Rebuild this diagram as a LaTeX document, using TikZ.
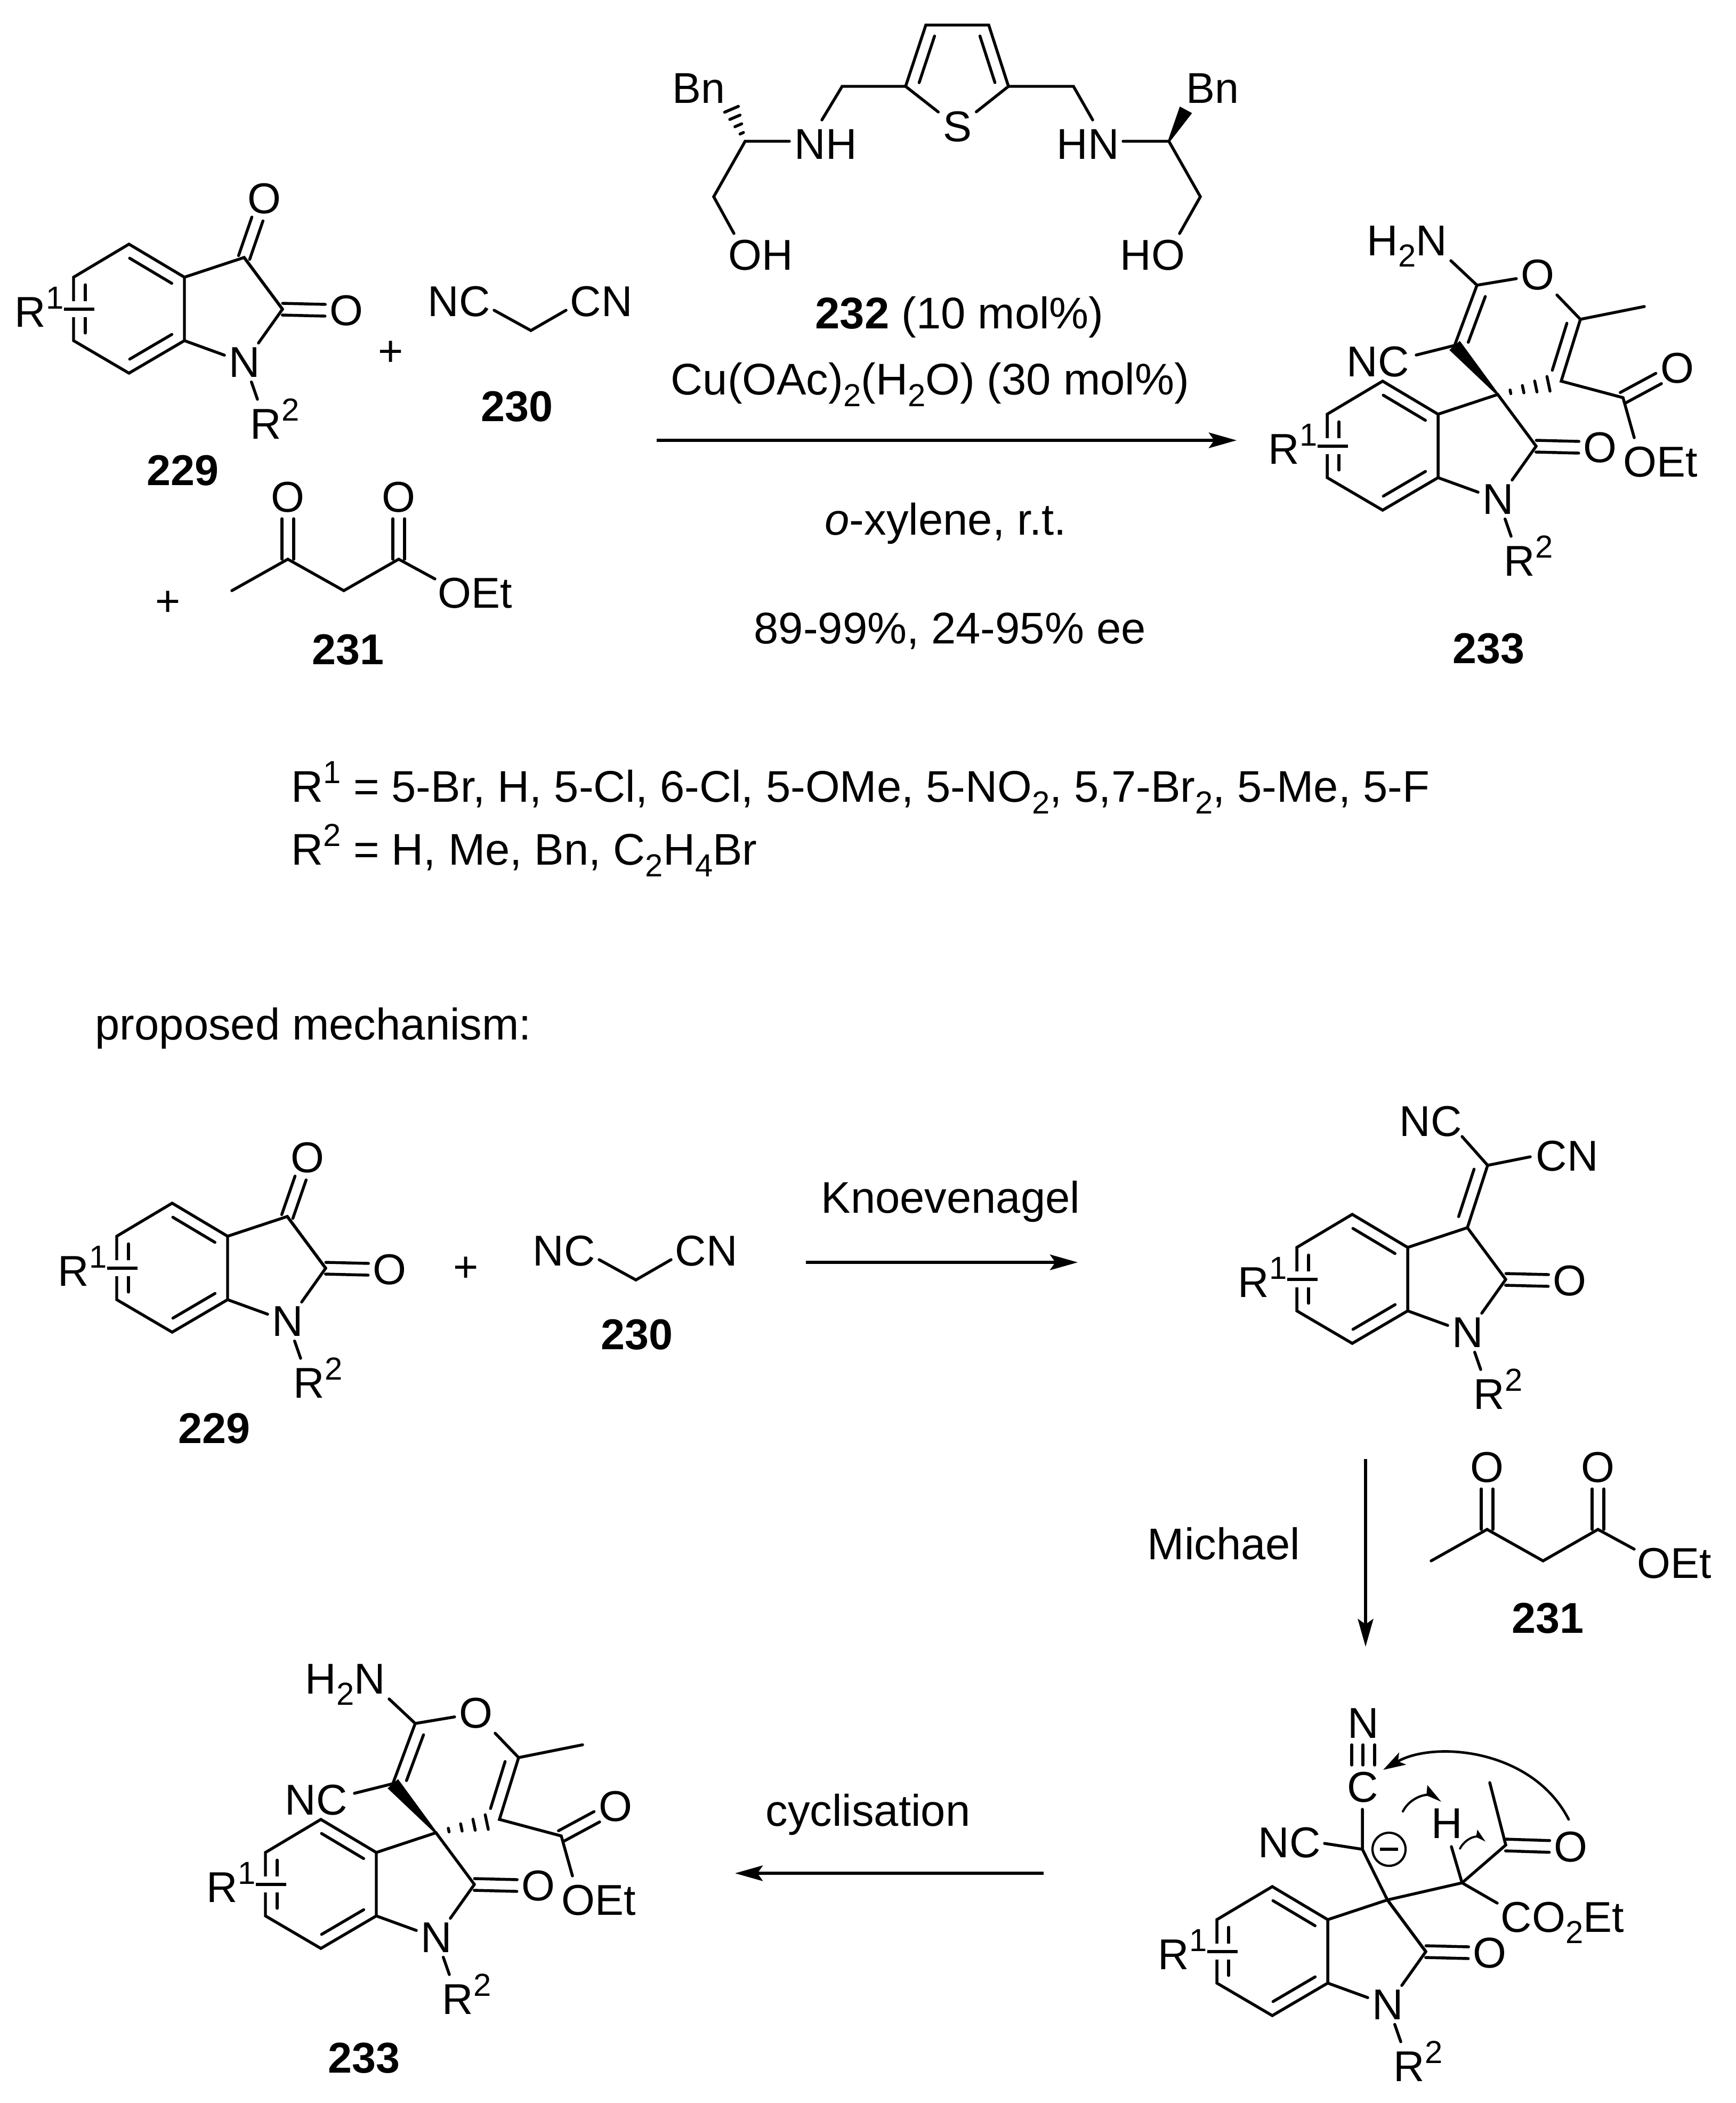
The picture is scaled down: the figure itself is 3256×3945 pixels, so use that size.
\documentclass[tikz,border=0pt]{standalone}
\usepackage{fontspec}
\setmainfont{Liberation Sans}
\usetikzlibrary{calc,arrows.meta}
\tikzset{
  every node/.style={font=\fontsize{23}{28}\selectfont},
  bond/.style={line width=1.55pt,line cap=round},
  atom/.style={inner sep=.08cm},
  lbl/.style={inner sep=0pt,anchor=base west,xshift=-.04cm},
  txt/.style={inner sep=0pt,anchor=base west,font=\fontsize{23.65}{28}\selectfont},
  ctr/.style={inner sep=0pt,anchor=base},
  rxn/.style={line width=1.5pt,-{Stealth[length=.52cm,width=.29cm,inset=.1cm]}},
  curly/.style={line width=1.35pt,line cap=round,-{Stealth[length=.42cm,width=.26cm,inset=.1cm]}},
  hook/.style={line width=1.2pt,line cap=round,-{Stealth[harpoon,length=.32cm,width=.32cm,inset=.05cm]}},
  hooklet/.style={line width=1.1pt,line cap=round,-{Stealth[harpoon,length=.2cm,width=.22cm,inset=.03cm]}},
}
\newcommand{\sups}[1]{\raisebox{.42em}{\fontsize{17}{17}\selectfont #1}}
\newcommand{\subs}[1]{\raisebox{-.27em}{\fontsize{17}{17}\selectfont #1}}
\newcommand{\innerbond}[2]{\draw[bond] ($(#1)!.12!(#2)!.22cm!90:(#2)$) -- ($(#2)!.12!(#1)!.22cm!-90:(#1)$);}
\newcommand{\twobond}[2]{
\draw[bond,shorten >=.4cm] ($(#1)!.11cm!90:(#2.center)$) -- ($(#2.center)!.11cm!-90:(#1)$);
\draw[bond,shorten >=.4cm] ($(#1)!.11cm!-90:(#2.center)$) -- ($(#2.center)!.11cm!90:(#1)$);
}
\newcommand{\wedgebond}[2]{\fill ($(#1)!.02cm!90:(#2)$) -- ($(#2)!.13cm!-90:(#1)$) -- ($(#2)!.13cm!90:(#1)$) -- ($(#1)!.02cm!-90:(#2)$) -- cycle;}
\newcommand{\hashbond}[2]{
\foreach \t in {.2,.4,.6,.8}{
\pgfmathsetmacro{\hw}{\t*.175}
\draw[bond] ($(#1)!\t!(#2)!\hw cm!90:(#2)$) -- ($(#1)!\t!(#2)!\hw cm!-90:(#2)$);
}}
\newcommand{\oxindole}[1]{
\coordinate (#1a) at (242,458);
\coordinate (#1b) at (138,520);
\coordinate (#1c) at (138,639);
\coordinate (#1d) at (242,700);
\coordinate (#1e) at (346,639);
\coordinate (#1f) at (346,520);
\coordinate (#1g) at (458,483);
\coordinate (#1h) at (530,580);
\coordinate (#1r) at (120,580);
\coordinate (#1s) at (177,580);
\coordinate (#1t) at (483,749);
\node [atom] (#1N) at (459,680) {N};
\node [atom] (#1O) at (650,583) {O};
\node [lbl] (#1R) at (31,613) {R\sups{1}};
\node [lbl] (#1S) at (473,823) {R\sups{2}};
\draw [bond] (#1a) -- (#1b) -- (#1c) -- (#1d) -- (#1e) -- (#1f) -- cycle;
\innerbond{#1f}{#1a}
\innerbond{#1d}{#1e}
\innerbond{#1b}{#1c}
\draw [line width=1.55pt,preaction={draw=white,line width=.3cm}] (#1r) -- (#1s);
\draw [bond] (#1f) -- (#1g) -- (#1h);
\draw [bond] (#1e) -- (#1N);
\draw [bond] (#1h) -- (#1N);
\draw [bond] (#1N) -- (#1t);
\twobond{#1h}{#1O}
}
\newcommand{\dinitrile}[1]{
\coordinate (#1a) at (927,582);
\coordinate (#1b) at (996,620);
\coordinate (#1c) at (1062,582);
\node [lbl] (#1L) at (806,593) {NC};
\node [lbl] (#1M) at (1073,593) {CN};
\draw [bond] (#1a) -- (#1b) -- (#1c);
}
\newcommand{\ketoester}[1]{
\coordinate (#1a) at (435,1108);
\coordinate (#1b) at (540,1049);
\coordinate (#1c) at (645,1108);
\coordinate (#1d) at (748,1049);
\coordinate (#1e) at (816,1086);
\node [atom] (#1O) at (540,933) {O};
\node [atom] (#1P) at (748,933) {O};
\node [lbl] (#1E) at (825,1140) {OEt};
\draw [bond] (#1a) -- (#1b) -- (#1c) -- (#1d) -- (#1e);
\twobond{#1b}{#1O}
\twobond{#1d}{#1P}
}
\newcommand{\spiro}[1]{
\begin{scope}[shift={(2352,257)}]
\oxindole{#1}
\end{scope}
\coordinate (#1i) at (2729,648);
\coordinate (#1j) at (2771,535);
\coordinate (#1k) at (2965,599);
\coordinate (#1l) at (2929,715);
\coordinate (#1m) at (3085,575);
\coordinate (#1n) at (3045,746);
\coordinate (#1u) at (2657,666);
\coordinate (#1v) at (2722,489);
\coordinate (#1w) at (3066,821);
\node [atom] (#1P) at (2885,516) {O};
\node [atom] (#1Q) at (3147,691) {O};
\node [lbl] (#1A) at (2530,706) {NC};
\node [lbl] (#1B) at (2568,479) {H\subs{2}N};
\node [lbl] (#1E) at (3049,894) {OEt};
\wedgebond{#1g}{#1i}
\hashbond{#1g}{#1l}
\draw [bond] (#1u) -- (#1i) -- (#1j) -- (#1P) -- (#1k) -- (#1m);
\draw [bond] (#1j) -- (#1v);
\draw [bond] (#1k) -- (#1l) -- (#1n) -- (#1w);
\innerbond{#1j}{#1i}
\innerbond{#1l}{#1k}
\twobond{#1n}{#1Q}
}
\begin{document}
\begin{tikzpicture}[x=.01cm,y=-.01cm]
\useasboundingbox (0,0) rectangle (3256,3945);
\oxindole{A}
\draw [bond] (Ag) -- (Ah);
\node [atom] (AT) at (496,373) {O};
\twobond{Ag}{AT}
\node [ctr] (n229) at (343,910) {\textbf{229}};
\node (p1) at (733,663) {+};
\dinitrile{B}
\node [ctr] (n230) at (970,790) {\textbf{230}};
\node (p2) at (315,1132) {+};
\ketoester{C}
\node [ctr] (n231) at (653,1246) {\textbf{231}};
% catalyst
\coordinate (t1) at (1398,265);
\coordinate (t2) at (1339,369);
\coordinate (t3) at (1377,438);
\coordinate (t4) at (1366,190);
\coordinate (t5) at (1481,265);
\coordinate (t6) at (1542,225);
\coordinate (t7) at (1580,162);
\coordinate (t8) at (1699,162);
\coordinate (t9) at (1737,47);
\coordinate (t10) at (1855,47);
\coordinate (t11) at (1892,162);
\coordinate (t12) at (2014,162);
\coordinate (t13) at (2050,225);
\coordinate (t14) at (2107,265);
\coordinate (t15) at (2193,265);
\coordinate (t16) at (2225,206);
\coordinate (t17) at (2252,369);
\coordinate (t18) at (2213,438);
\node [atom] (tS) at (1796,238) {S};
\node [lbl] (tBa) at (1265,193) {Bn};
\node [lbl] (tBb) at (2229,193) {Bn};
\node [lbl] (tNa) at (1494,298) {NH};
\node [lbl] (tNb) at (1986,298) {HN};
\node [lbl] (tOa) at (1370,506) {OH};
\node [lbl] (tOb) at (2105,506) {HO};
\hashbond{t1}{t4}
\wedgebond{t15}{t16}
\draw [bond] (t3) -- (t2) -- (t1) -- (t5);
\draw [bond] (t6) -- (t7) -- (t8) -- (t9) -- (t10) -- (t11) -- (t12) -- (t13);
\draw [bond] (t8) -- (tS);
\draw [bond] (t11) -- (tS);
\innerbond{t9}{t8}
\innerbond{t11}{t10}
\draw [bond] (t14) -- (t15) -- (t17) -- (t18);
\node [txt] (c1) at (1529,616) {\textbf{232} (10 mol\%)};
\node [txt] (c2) at (1258,740) {Cu(OAc)\subs{2}(H\subs{2}O) (30 mol\%)};
\coordinate (a1) at (1232,826);
\coordinate (a2) at (2320,826);
\draw [rxn] (a1) -- (a2);
\node [txt] (c3) at (1547,1003) {\textit{o}-xylene, r.t.};
\node [txt] (c4) at (1414,1207) {89-99\%, 24-95\% ee};
\spiro{D}
\node [ctr] (n233) at (2793,1244) {\textbf{233}};
\node [txt] (s1) at (546,1504) {R\sups{1} = 5-Br, H, 5-Cl, 6-Cl, 5-OMe, 5-NO\subs{2}, 5,7-Br\subs{2}, 5-Me, 5-F};
\node [txt] (s2) at (546,1622) {R\sups{2} = H, Me, Bn, C\subs{2}H\subs{4}Br};
\node [txt] (m0) at (178,1950) {proposed mechanism:};
% mechanism
\begin{scope}[shift={(81,1799)}]
\oxindole{E}
\draw [bond] (Eg) -- (Eh);
\node [atom] (ET) at (496,373) {O};
\twobond{Eg}{ET}
\end{scope}
\node [ctr] (m229) at (402,2707) {\textbf{229}};
\node (p3) at (874,2381) {+};
\begin{scope}[shift={(197,1781)}]
\dinitrile{F}
\end{scope}
\node [ctr] (m230) at (1195,2531) {\textbf{230}};
\coordinate (a3) at (1512,2368);
\coordinate (a4) at (2022,2368);
\draw [rxn] (a3) -- (a4);
\node [txt] (m1) at (1540,2275) {Knoevenagel};
\begin{scope}[shift={(2295,1820)}]
\oxindole{G}
\end{scope}
\coordinate (g1) at (2791,2186);
\coordinate (g2) at (2743,2132);
\coordinate (g3) at (2871,2170);
\node [lbl] (g4) at (2629,2131) {NC};
\node [lbl] (g5) at (2885,2196) {CN};
\draw [bond] (Gg) -- (g1) -- (g2);
\draw [bond] (g1) -- (g3);
\innerbond{Gg}{g1}
\coordinate (a5) at (2562,2737);
\coordinate (a6) at (2562,3089);
\draw [rxn] (a5) -- (a6);
\node [txt] (m2) at (2152,2925) {Michael};
\begin{scope}[shift={(2250,1820)}]
\ketoester{H}
\end{scope}
\node [ctr] (m231) at (2904,3063) {\textbf{231}};
\begin{scope}[shift={(2145,3081)}]
\oxindole{J}
\end{scope}
\coordinate (j1) at (2556,3469);
\coordinate (j2) at (2485,3458);
\coordinate (j3) at (2556,3394);
\coordinate (j4) at (2743,3532);
\coordinate (j5) at (2723,3464);
\coordinate (j6) at (2825,3461);
\coordinate (j7) at (2795,3344);
\coordinate (j8) at (2809,3570);
\coordinate (j9) at (2536,3311);
\coordinate (j10) at (2536,3273);
\coordinate (j11) at (2557,3311);
\coordinate (j12) at (2557,3273);
\coordinate (j13) at (2579,3311);
\coordinate (j14) at (2579,3273);
\node [lbl] (jNC) at (2364,3484) {NC};
\node [atom] (jC) at (2557,3353) {C};
\node [atom] (jN) at (2558,3233) {N};
\node [lbl] (jH) at (2689,3448) {H};
\node [atom] (jO) at (2947,3465) {O};
\node [lbl] (jE) at (2819,3624) {CO\subs{2}Et};
\draw [bond] (j2) -- (j1) -- (j3);
\draw [bond] (j1) -- (Jg);
\draw [bond] (Jg) -- (j4) -- (j6) -- (j7);
\draw [bond] (j5) -- (j4) -- (j8);
\draw [bond] (j9) -- (j10);
\draw [bond] (j11) -- (j12);
\draw [bond] (j13) -- (j14);
\twobond{j6}{jO}
\draw [bond] (Jg) -- (Jh);
\node [draw,circle,line width=1.2pt,minimum size=.62cm,inner sep=0pt] (jM) at (2606,3469) {};
\draw [line width=1.5pt] ($(jM.center)+(-17,0)$) -- ($(jM.center)+(17,0)$);
\coordinate (k1) at (2943,3413);
\coordinate (k2) at (2595,3320);
\coordinate (k3) at (2632,3398);
\coordinate (k4) at (2705,3378);
\coordinate (k5) at (2739,3468);
\coordinate (k6) at (2788,3453);
\draw [curly] (k1) .. controls (2875,3280) and (2690,3265) .. (k2);
\draw [hook] (k3) .. controls (2645,3372) and (2675,3365) .. (k4);
\draw [hooklet] (k5) .. controls (2748,3450) and (2768,3443) .. (k6);
\coordinate (a7) at (1958,3514);
\coordinate (a8) at (1379,3514);
\draw [rxn] (a7) -- (a8);
\node [txt] (m3) at (1436,3425) {cyclisation};
\begin{scope}[shift={(-1992,2698)}]
\spiro{K}
\end{scope}
\node [ctr] (m233) at (683,3888) {\textbf{233}};
\end{tikzpicture}
\end{document}
